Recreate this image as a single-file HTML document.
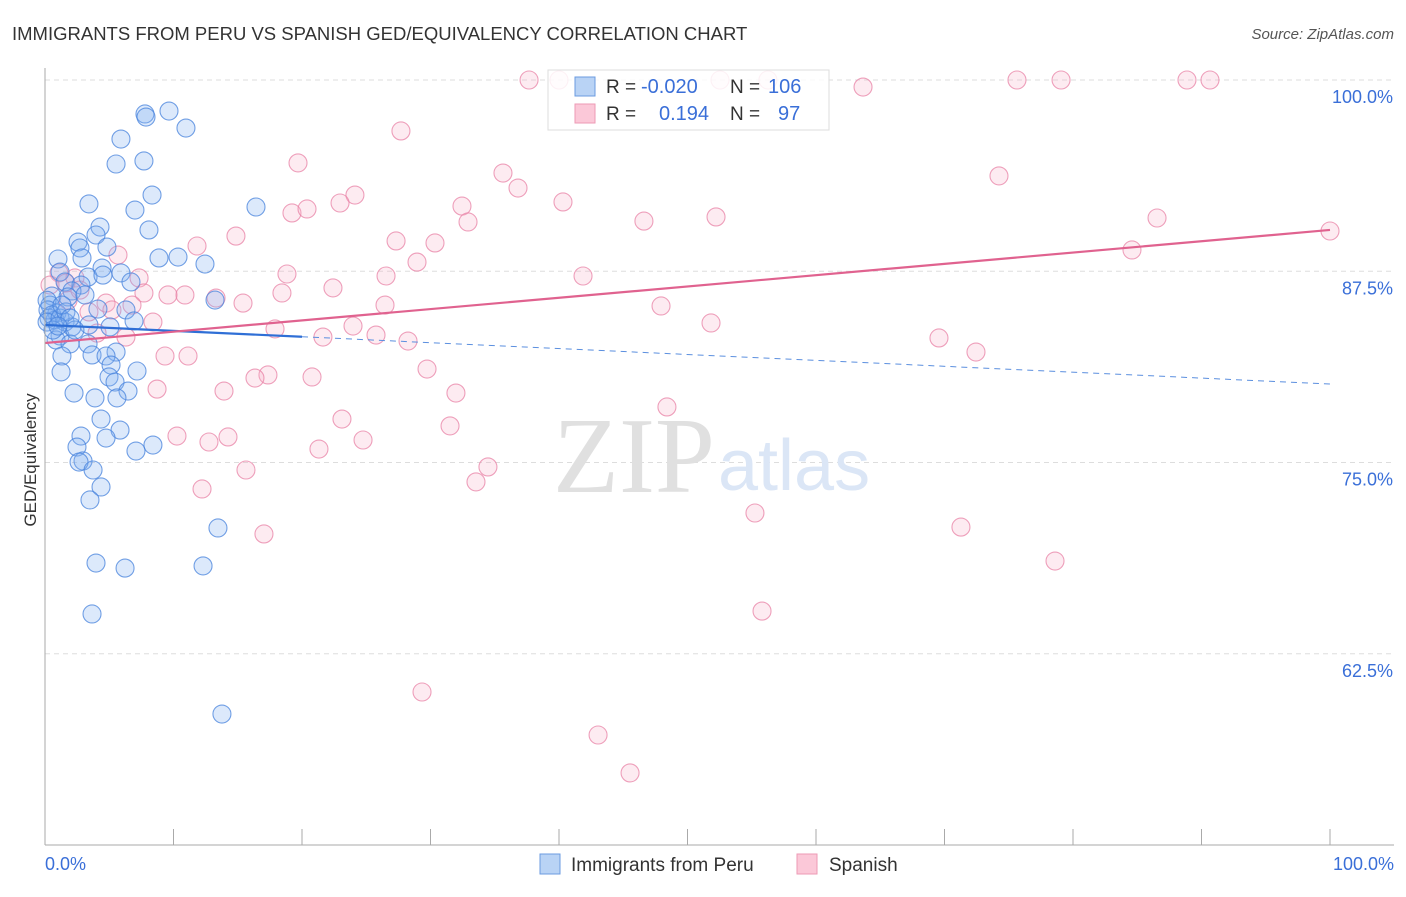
<!DOCTYPE html>
<html><head><meta charset="utf-8"><style>
body{margin:0;background:#fff;font-family:"Liberation Sans",sans-serif}
</style></head><body>
<svg id="c" width="1406" height="892" xmlns="http://www.w3.org/2000/svg" font-family="Liberation Sans, sans-serif">
<text x="12" y="40" font-size="18.5" fill="#333">IMMIGRANTS FROM PERU VS SPANISH GED/EQUIVALENCY CORRELATION CHART</text>
<text x="1394" y="39" font-size="15" fill="#555" font-style="italic" text-anchor="end">Source: ZipAtlas.com</text>
<g id="grid"></g>
<text x="715" y="492" font-size="108" fill="#e0e0e0" text-anchor="end" style="font-family:'Liberation Serif',serif">ZIP</text>
<text x="718" y="490" font-size="72" fill="#dbe6f6">atlas</text>
<g id="pts"></g>
<g id="lines"></g>
<line x1="45" y1="68" x2="45" y2="845" stroke="#aaa"/>
<line x1="45" y1="845" x2="1394" y2="845" stroke="#aaa"/>
<text x="36" y="460" font-size="17" fill="#333" text-anchor="middle" transform="rotate(-90 36 460)">GED/Equivalency</text>
<text x="45" y="870" font-size="18" fill="#3a6fd8">0.0%</text>
<text x="1394" y="870" font-size="18" fill="#3a6fd8" text-anchor="end">100.0%</text>
<g>
<rect x="548" y="70" width="281" height="60" fill="rgba(255,255,255,0.85)" stroke="#ddd"/>
<rect x="575" y="77" width="20" height="19" fill="#b9d3f5" stroke="#6b9be0"/>
<rect x="575" y="104" width="20" height="19" fill="#fbc8d8" stroke="#ee9ab5"/>
<text x="606" y="93" font-size="19" fill="#333">R =</text>
<text x="641" y="93" font-size="20" fill="#3a6fd8">-0.020</text>
<text x="730" y="93" font-size="19" fill="#333">N =</text>
<text x="768" y="93" font-size="20" fill="#3a6fd8">106</text>
<text x="606" y="120" font-size="19" fill="#333">R =</text>
<text x="659" y="120" font-size="20" fill="#3a6fd8">0.194</text>
<text x="730" y="120" font-size="19" fill="#333">N =</text>
<text x="778" y="120" font-size="20" fill="#3a6fd8">97</text>
</g>
<g>
<rect x="540" y="854" width="20" height="20" fill="#b9d3f5" stroke="#6b9be0"/>
<text x="571" y="871" font-size="19" fill="#333">Immigrants from Peru</text>
<rect x="797" y="854" width="20" height="20" fill="#fbc8d8" stroke="#ee9ab5"/>
<text x="829" y="871" font-size="19" fill="#333">Spanish</text>
</g>
</svg>
<script>
const yTicks=[100,87.5,75,62.5];
const yTickLabels=["100.0%","87.5%","75.0%","62.5%"];
const xTicks=[0,10,20,30,40,50,60,70,80,90,100];
const peruX=[9.65,7.78,7.86,10.97,5.91,5.53,7.70,8.33,3.42,7.00,16.42,8.09,4.28,3.97,2.57,2.72,4.82,10.35,8.87,2.88,1.01,12.45,4.44,5.91,1.17,3.35,4.51,1.56,2.80,6.69,2.10,0.54,0.39,13.23,1.79,4.12,6.30,0.93,0.31,0.78,1.56,2.10,3.42,5.06,6.93,1.17,0.86,1.95,3.35,5.53,3.66,4.75,1.32,5.14,7.16,1.25,4.98,5.45,6.46,2.26,3.89,5.60,4.36,5.84,2.80,4.75,8.40,2.49,7.08,2.96,2.65,3.74,4.36,3.50,13.46,3.97,6.23,12.30,3.66,13.77,0.16,0.23,0.54,0.16,1.17,1.63,0.62,2.33,1.32,3.11,1.95,1.01];
const peruY=[97.97,97.78,97.58,96.86,96.14,94.51,94.71,92.48,91.90,91.50,91.70,90.20,90.39,89.87,89.41,89.02,89.08,88.43,88.37,88.37,88.30,87.97,87.71,87.39,87.45,87.12,87.25,86.80,86.60,86.80,86.21,85.88,85.29,85.62,85.82,85.03,84.97,84.77,84.44,84.31,84.18,83.86,83.99,83.86,84.25,83.27,83.01,82.75,82.75,82.22,82.03,81.96,81.96,81.37,80.98,80.92,80.59,80.26,79.67,79.54,79.22,79.22,77.84,77.12,76.73,76.60,76.14,76.01,75.75,75.10,75.03,74.51,73.40,72.55,70.72,68.43,68.10,68.24,65.10,58.56,85.6,84.97,84.64,84.18,84.44,84.84,83.66,83.66,85.29,85.95,84.44,83.92];
const spanX=[37.67,40.0,52.53,56.26,63.66,75.64,79.07,88.87,90.66,27.70,19.69,35.64,36.81,24.12,19.22,20.39,22.96,32.45,40.31,46.61,52.22,74.24,86.54,100,84.59,14.86,11.83,27.32,30.35,32.92,28.95,5.68,18.83,26.54,41.87,7.32,1.09,2.33,1.63,22.41,18.44,13.31,10.89,9.57,7.70,15.41,26.46,47.94,4.75,3.42,5.21,6.77,8.40,17.90,23.97,21.63,25.76,28.25,51.83,69.57,72.45,4.05,6.30,9.34,11.13,8.72,13.93,17.35,16.34,20.78,29.73,31.98,48.40,23.11,24.75,10.27,12.76,14.24,21.32,31.52,34.47,33.54,15.64,12.22,55.25,71.28,17.04,78.60,55.80,29.34,43.04,45.53,0.39,1.79,2.72];
const spanY=[100,100,100,100,99.54,100,100,100,100,96.67,94.58,93.92,92.94,92.48,91.31,91.57,91.96,91.76,92.03,90.78,91.05,93.73,90.98,90.13,88.89,89.80,89.15,89.48,89.35,90.72,88.10,88.56,87.32,87.19,87.19,87.06,87.39,87.06,86.73,86.41,86.08,85.75,85.95,85.95,86.08,85.42,85.29,85.23,85.42,84.84,84.97,85.29,84.18,83.73,83.92,83.20,83.33,82.94,84.12,83.14,82.22,83.46,83.20,81.96,81.96,79.80,79.67,80.72,80.52,80.59,81.11,79.54,78.63,77.84,76.47,76.73,76.34,76.67,75.88,77.39,74.71,73.73,74.51,73.27,71.70,70.78,70.33,68.56,65.29,60.0,57.19,54.71,86.6,85.6,86.27];
const peruTrend=[83.99,80.13];
const spanTrend=[82.81,90.2];
const NS="http://www.w3.org/2000/svg";
const xs=v=>45+v*12.85;
const ys=v=>80+(100-v)*15.3;
function mk(tag,attrs,parent){const e=document.createElementNS(NS,tag);for(const k in attrs)e.setAttribute(k,attrs[k]);parent.appendChild(e);return e;}
const grid=document.getElementById('grid');
yTicks.forEach((t,i)=>{
 const l=mk('line',{x1:45,x2:1394,y1:ys(t),y2:ys(t),stroke:'#ddd','stroke-dasharray':'5,4'},grid);
 
 
 const tx=mk('text',{x:1393,y:ys(t)+23,'font-size':18,fill:'#3a6fd8','text-anchor':'end'},grid);
 tx.textContent=yTickLabels[i];
 
 
});
xTicks.forEach(t=>{
 const l=mk('line',{x1:xs(t),x2:xs(t),y1:829,y2:845,stroke:'#aaa'},grid);
 
 
});
const pts=document.getElementById('pts');
spanX.forEach((v,i)=>{
 const c=mk('circle',{cx:xs(v),cy:ys(spanY[i]),r:9,fill:'rgba(246,175,200,0.25)',stroke:'rgba(232,130,165,0.75)','stroke-width':1.1},pts);
 
 
});
peruX.forEach((v,i)=>{
 const c=mk('circle',{cx:xs(v),cy:ys(peruY[i]),r:9,fill:'rgba(130,175,240,0.28)',stroke:'rgba(70,130,220,0.75)','stroke-width':1.1},pts);
 
 
});
const lines=document.getElementById('lines');
const py=x=>peruTrend[0]+(peruTrend[1]-peruTrend[0])*x/100;
let a=mk('line',{x1:xs(0),y1:ys(py(0)),x2:xs(20),y2:ys(py(20)),stroke:'#2f6fd6','stroke-width':2.2},lines);


let b=mk('line',{x1:xs(20),y1:ys(py(20)),x2:xs(100),y2:ys(py(100)),stroke:'#5b8fdf','stroke-width':1,'stroke-dasharray':'6,5'},lines);


let s=mk('line',{x1:xs(0),y1:ys(spanTrend[0]),x2:xs(100),y2:ys(spanTrend[1]),stroke:'#e0628f','stroke-width':2.2},lines);


</script>
</body></html>
